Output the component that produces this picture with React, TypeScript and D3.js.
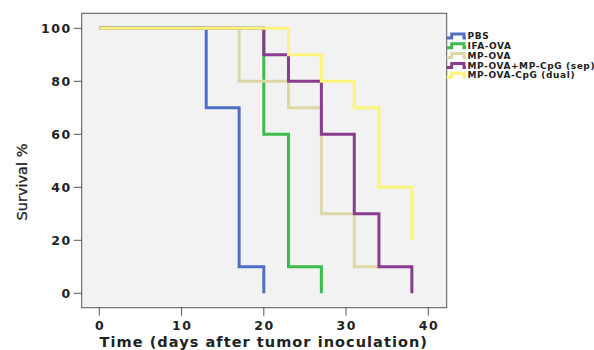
import * as d3 from 'd3'

// Kaplan-Meier steps: day of each event, survival (%) after it
const groups = ['PBS', 'IFA-OVA', 'MP-OVA', 'MP-OVA+MP-CpG (sep)', 'MP-OVA-CpG (dual)']
const colors = ['#4d6fc6', '#3dbb4b', '#ddd7a8', '#8b3c91', '#fdf47c']
const pbsDays = [0, 13, 17, 20]
const pbsSurv = [100, 70, 10, 0]
const ifaDays = [0, 20, 23, 27]
const ifaSurv = [100, 60, 10, 0]
const mpDays = [0, 17, 23, 27, 31, 34]
const mpSurv = [100, 80, 70, 30, 10, 10]
const sepDays = [0, 20, 23, 27, 31, 34, 38]
const sepSurv = [100, 90, 80, 60, 30, 10, 0]
const dualDays = [0, 23, 27, 31, 34, 38]
const dualSurv = [100, 90, 80, 70, 40, 20]
const xTicks = [0, 10, 20, 30, 40]
const yTicks = [0, 20, 40, 60, 80, 100]

const seriesDays = [pbsDays, ifaDays, mpDays, sepDays, dualDays]
const seriesSurv = [pbsSurv, ifaSurv, mpSurv, sepSurv, dualSurv]

export default function App() {
  const width = 594
  const height = 350
  const box = { left: 81.7, right: 446.7, top: 13.3, bottom: 307.7 }

  const x = d3.scaleLinear().domain([0, 40]).range([99.3, 428.3])
  const y = d3.scaleLinear().domain([0, 100]).range([293.3, 28.3])

  const line = d3.line<[number, number]>()
    .x(d => x(d[0]))
    .y(d => y(d[1]))
    .curve(d3.curveStepAfter)

  const font = '"DejaVu Sans", sans-serif'

  return (
    <svg width={width} height={height} style={{ position: 'absolute', left: 0, top: 0 }}>
      <rect x={0} y={0} width={width} height={height} fill="#fff" />
      <rect x={box.left} y={box.top} width={box.right - box.left} height={box.bottom - box.top}
        fill="#f2f2f2" stroke="#555" strokeWidth={1} />

      {seriesDays.map((days, i) => {
        const pts: [number, number][] = days.map((d, j) => [d, seriesSurv[i][j]])
        return (
          <path key={groups[i]} d={line(pts) || ''} fill="none" stroke={colors[i]}
            strokeWidth={3} strokeLinejoin="miter" strokeLinecap="butt" />
        )
      })}

      {yTicks.map(t => (
        <g key={'y' + t}>
          <line x1={box.left - 8} x2={box.left} y1={y(t)} y2={y(t)} stroke="#555" />
          <text x={box.left - 10} y={y(t)} dy="0.36em" textAnchor="end" fontFamily={font}
            fontWeight="bold" fontSize={12.5} letterSpacing={1.5} fill="#222">{t}</text>
        </g>
      ))}
      {xTicks.map(t => (
        <g key={'x' + t}>
          <line x1={x(t)} x2={x(t)} y1={box.bottom} y2={box.bottom + 8} stroke="#555" />
          <text x={x(t) + 0.75} y={box.bottom + 22} textAnchor="middle" fontFamily={font}
            fontWeight="bold" fontSize={12.5} letterSpacing={1.5} fill="#222">{t}</text>
        </g>
      ))}

      <text x={(x(0) + x(40)) / 2} y={347} textAnchor="middle" fontFamily={font}
        fontWeight="bold" fontSize={14.5} letterSpacing={1.05} fill="#222">Time (days after tumor inoculation)</text>
      <text transform={`translate(27,182) rotate(-90)`} textAnchor="middle" fontFamily={font}
        fontSize={14.5} fill="#222" stroke="#222" strokeWidth={0.3}>Survival %</text>

      {groups.map((g, i) => {
        const ly = 36 + i * 9.8
        const x0 = 446.7
        const x1 = 466
        return (
          <g key={'lg' + g}>
            <path d={`M${x0},${ly + 2}H${x0 + 5}V${ly - 2}H${x1 - 2}V${ly + 2}H${x1}`}
              fill="none" stroke={colors[i]} strokeWidth={3} />
            <text x={467.5} y={ly} dy="0.35em" fontFamily={font} fontWeight="bold"
              fontSize={9} letterSpacing={0.6} fill="#222">{g}</text>
          </g>
        )
      })}
    </svg>
  )
}
